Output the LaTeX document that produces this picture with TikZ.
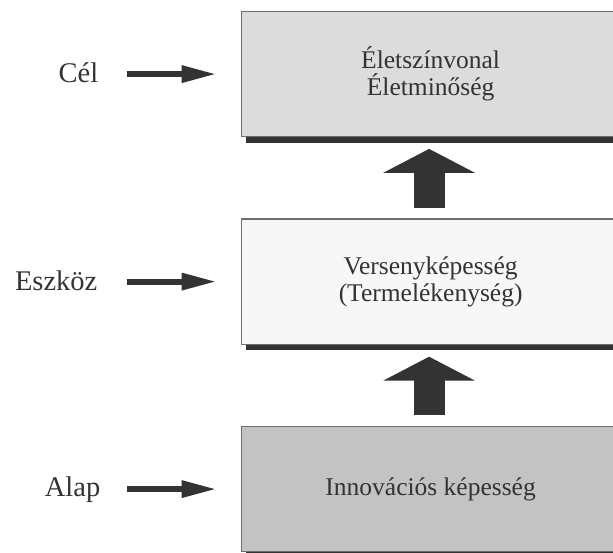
\documentclass[tikz,border=0pt]{standalone}
\usepackage{fontspec}
\setmainfont{Liberation Serif}
\usetikzlibrary{arrows.meta}
\definecolor{txtc}{HTML}{333333}
\definecolor{shadc}{HTML}{333333}
\definecolor{bordc}{HTML}{6E6E6E}
\definecolor{fillA}{HTML}{DCDCDC}
\definecolor{fillB}{HTML}{F7F7F7}
\definecolor{fillC}{HTML}{C3C3C3}
\tikzset{
  levelbox/.style={draw=bordc, line width=1.2pt, rectangle, anchor=north west,
    minimum width=378pt, minimum height=125pt, inner sep=0pt, align=center,
    text=txtc, font=\fontsize{25.5}{27}\selectfont},
  sidelabel/.style={anchor=base east, inner sep=0pt, text=txtc,
    font=\fontsize{28.5}{30}\selectfont},
  sidearrow/.style={draw=shadc, line width=6pt, -{Triangle[length=35pt,width=16pt]}},
  uparrow/.style={draw=shadc, line width=31pt, -{Triangle[length=24pt,width=91pt]}},
  shadowfill/.style={fill=shadc}
}
\begin{document}
\begin{tikzpicture}[x=1pt,y=-1pt]
\useasboundingbox (0,0) rectangle (613,553);
% shadows
\fill[shadowfill] (246,17) rectangle (625,142.7);
\fill[shadowfill] (246,225) rectangle (625,350);
\fill[shadowfill] (246,432) rectangle (625,557);
% boxes
\node[levelbox, fill=fillA] (cel) at (241,11) {Életszínvonal\\Életminőség};
\node[levelbox, fill=fillB] (eszk) at (241,218.5) {Versenyképesség\\(Termelékenység)};
\node[levelbox, fill=fillC] (alap) at (241,426) {Innovációs képesség};
% left labels
\node[sidelabel] (lcel) at (98.5,82.7) {Cél};
\node[sidelabel] (leszk) at (97.5,290.7) {Eszköz};
\node[sidelabel] (lalap) at (100.5,496.5) {Alap};
% left arrows
\draw[sidearrow] ([xshift=-114.3pt]cel.west) -- ([xshift=-24.3pt]cel.west);
\draw[sidearrow] ([xshift=-114.3pt]eszk.west) -- ([xshift=-24.3pt]eszk.west);
\draw[sidearrow] ([xshift=-114.3pt]alap.west) -- ([xshift=-24.3pt]alap.west);
% up arrows
\draw[uparrow, shorten <=10.5pt, shorten >=11.7pt] ([xshift=-1.5pt]eszk.north) -- ([xshift=-1.5pt]cel.south);
\draw[uparrow, shorten <=11pt, shorten >=12pt] ([xshift=-1.5pt]alap.north) -- ([xshift=-1.5pt]eszk.south);
\end{tikzpicture}
\end{document}
